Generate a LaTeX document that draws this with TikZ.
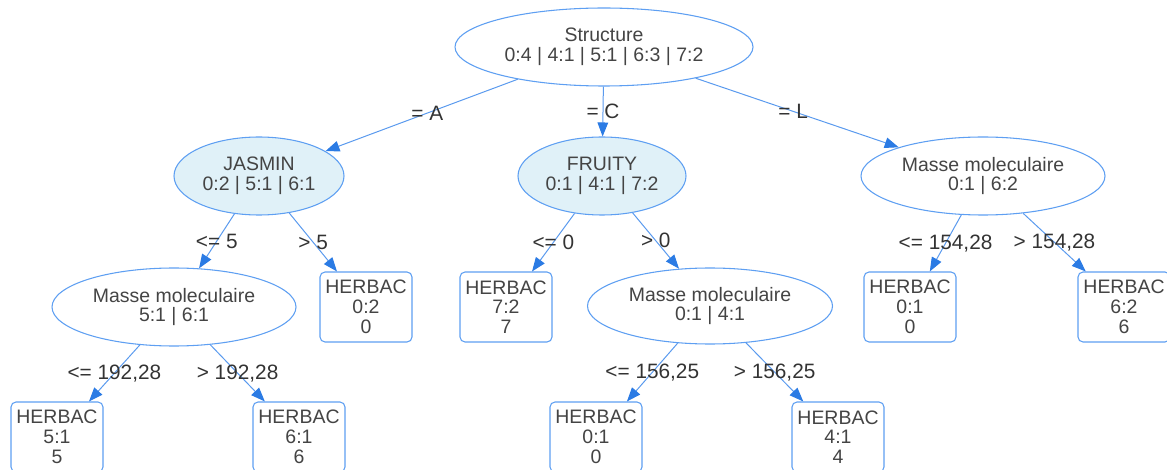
\documentclass[tikz,border=0pt]{standalone}
\usepackage{fontspec}
\setmainfont{Liberation Sans}
\usetikzlibrary{shapes.geometric,arrows.meta}
\definecolor{edgeblue}{HTML}{5A9AEE}
\definecolor{tipblue}{HTML}{2B7BE4}
\definecolor{nodeline}{HTML}{5E9FF2}
\definecolor{splitfill}{HTML}{E0F1F8}
\definecolor{nodetext}{HTML}{444444}
\definecolor{labeltext}{HTML}{333333}
\begin{document}
\begin{tikzpicture}[x=0.75pt,y=-0.75pt,
  split/.style={ellipse, draw=nodeline, line width=0.8pt, fill=white,
    inner sep=0pt, align=center, text=nodetext,
    minimum width=#1, minimum height=58.5pt,
    font=\fontsize{14.6}{14.8}\selectfont},
  split/.default=183pt,
  shaded/.style={fill=splitfill},
  leaf/.style={rectangle, rounded corners=3.75pt, draw=nodeline, line width=0.8pt,
    fill=white, inner sep=0pt, align=center, text=nodetext,
    minimum width=69pt, minimum height=52.5pt,
    font=\fontsize{14.6}{14.8}\selectfont},
  branch/.style={draw=edgeblue, line width=0.75pt,
    -{Triangle[length=10.5pt,width=8pt,color=tipblue]}},
  cond/.style={inner sep=0pt, text=labeltext, font=\fontsize{15.6}{16}\selectfont}
]
\useasboundingbox (0,0) rectangle (1167,470);

% root split
\node[split=223.5pt] (root) at (604,47) {Structure\\0:4 | 4:1 | 5:1 | 6:3 | 7:2};

% second level
\node[split=127.5pt, shaded] (jas) at (259,176) {JASMIN\\0:2 | 5:1 | 6:1};
\node[split=126pt, shaded] (fru) at (602,176) {FRUITY\\0:1 | 4:1 | 7:2};
\node[split] (mR) at (983,176) {Masse moleculaire\\0:1 | 6:2};

% third level
\node[split] (mL) at (174,307) {Masse moleculaire\\5:1 | 6:1};
\node[leaf] (h02) at (366,307) {HERBAC\\0:2\\0};
\node[leaf] (h72) at (506,307) {HERBAC\\7:2\\7};
\node[split=183.75pt, minimum height=57pt] (mM) at (710,306) {Masse moleculaire\\0:1 | 4:1};
\node[leaf] (h01R) at (910,307) {HERBAC\\0:1\\0};
\node[leaf] (h62) at (1124,307) {HERBAC\\6:2\\6};

% bottom level
\node[leaf] (h51) at (57,437) {HERBAC\\5:1\\5};
\node[leaf] (h61) at (299,437) {HERBAC\\6:1\\6};
\node[leaf] (h01M) at (596,437) {HERBAC\\0:1\\0};
\node[leaf] (h41) at (838,437) {HERBAC\\4:1\\4};

% branches with their conditions
\draw[branch] (root) -- node[cond, pos=0.47] {= A} (jas);
\draw[branch] (root) -- node[cond] {= C} (fru);
\draw[branch] (root) -- node[cond, pos=0.48] {= L} (mR);

\draw[branch] (jas) -- node[cond] {<= 5} (mL);
\draw[branch] (jas) -- node[cond] {> 5} (h02);
\draw[branch] (fru) -- node[cond] {<= 0} (h72);
\draw[branch] (fru) -- node[cond] {> 0} (mM);
\draw[branch] (mR) -- node[cond] {<= 154,28} (h01R);
\draw[branch] (mR) -- node[cond] {> 154,28} (h62);

\draw[branch] (mL) -- node[cond] {<= 192,28} (h51);
\draw[branch] (mL) -- node[cond] {> 192,28} (h61);
\draw[branch] (mM) -- node[cond] {<= 156,25} (h01M);
\draw[branch] (mM) -- node[cond] {> 156,25} (h41);
\end{tikzpicture}
\end{document}
